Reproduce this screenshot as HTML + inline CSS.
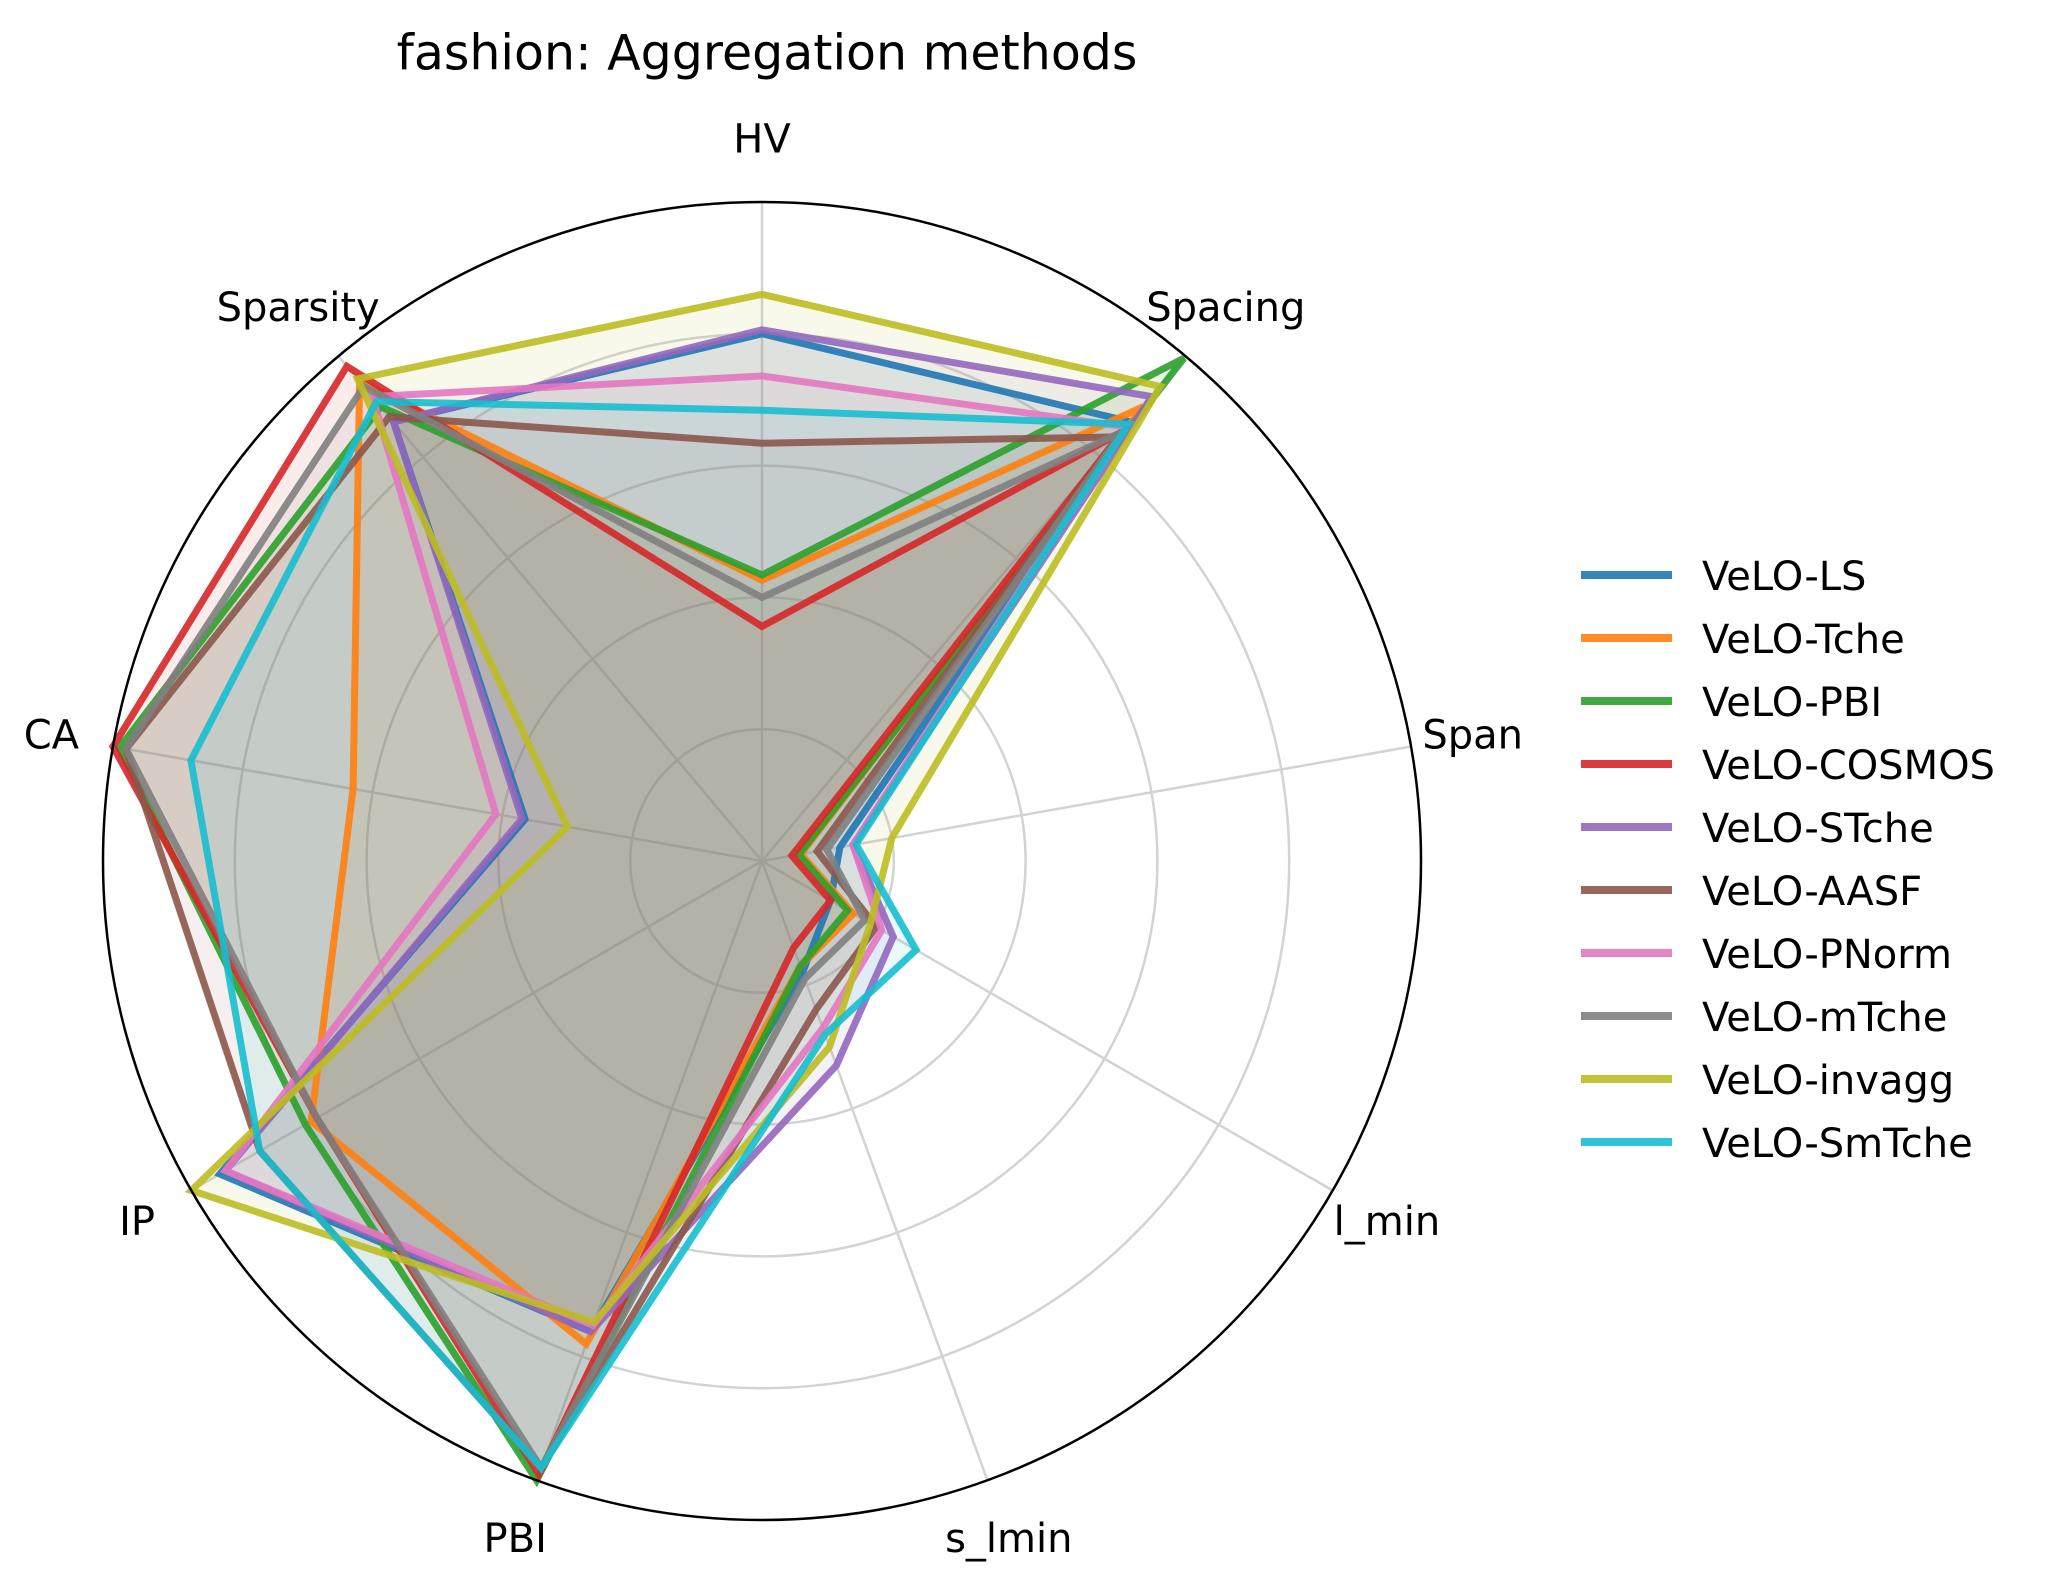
<!DOCTYPE html>
<html><head><meta charset="utf-8"><style>body{margin:0;background:#fff}svg{display:block}text{font-family:"DejaVu Sans","Liberation Sans",sans-serif}</style></head>
<body>
<svg id="chart" width="2053" height="1582" viewBox="0 0 2053 1582" xmlns="http://www.w3.org/2000/svg">
<text x="767" y="53" font-size="49" text-anchor="middle" dominant-baseline="central">fashion: Aggregation methods</text>
<g id="grid"></g>
<g id="series"></g>
<g id="labels"></g>
<g id="legend"></g>
</svg>
<script>
const axes = ["HV","Spacing","Span","l_min","s_lmin","PBI","IP","CA","Sparsity"];
const seriesNames = ["VeLO-LS","VeLO-Tche","VeLO-PBI","VeLO-COSMOS","VeLO-STche","VeLO-AASF","VeLO-PNorm","VeLO-mTche","VeLO-invagg","VeLO-SmTche"];
const colors = ["#1f77b4","#ff7f0e","#2ca02c","#d62728","#9467bd","#8c564b","#e377c2","#7f7f7f","#bcbd22","#17becf"];
const vLS     = [0.80,0.87,0.12,0.12,0.18,0.76,0.95,0.365,0.87];
const vTche   = [0.426,0.90,0.06,0.16,0.17,0.78,0.79,0.63,0.95];
const vPBI    = [0.434,0.996,0.057,0.15,0.17,1.00,0.80,0.99,0.90];
const vCOSMOS = [0.356,0.85,0.046,0.12,0.14,0.99,0.78,1.00,0.98];
const vSTche  = [0.806,0.92,0.14,0.23,0.33,0.76,0.94,0.37,0.87];
const vAASF   = [0.634,0.84,0.085,0.20,0.24,0.98,0.88,0.98,0.88];
const vPNorm  = [0.736,0.86,0.14,0.21,0.27,0.75,0.94,0.41,0.92];
const vmTche  = [0.40,0.85,0.10,0.18,0.19,0.98,0.78,0.98,0.94];
const vinvagg = [0.86,0.94,0.20,0.19,0.30,0.745,1.00,0.30,0.955];
const vSmTche = [0.684,0.865,0.145,0.27,0.28,0.98,0.88,0.88,0.91];
const seriesValues = [vLS,vTche,vPBI,vCOSMOS,vSTche,vAASF,vPNorm,vmTche,vinvagg,vSmTche];
const gridTicks = [0.2,0.4,0.6,0.8];

const NS="http://www.w3.org/2000/svg";
const cx=762, cy=861, R=659;
function ang(i){return (90 - i*360/axes.length)*Math.PI/180;}
function px(i,v){return cx + Math.cos(ang(i))*v*R;}
function py(i,v){return cy - Math.sin(ang(i))*v*R;}
function mk(tag,attrs,parent){const e=document.createElementNS(NS,tag);for(const k in attrs)e.setAttribute(k,attrs[k]);parent.appendChild(e);return e;}

const grid=document.getElementById('grid');
gridTicks.forEach(t=>{
  const c=mk('circle',{cx:cx,cy:cy,r:t*R,fill:'none',stroke:'#d3d3d3','stroke-width':2.5},grid);
  
  
});
axes.forEach((a,i)=>{
  const l=mk('line',{x1:cx,y1:cy,x2:px(i,1),y2:py(i,1),stroke:'#d3d3d3','stroke-width':2.5},grid);
  
  
});

const sg=document.getElementById('series');
seriesValues.forEach((vals,s)=>{
  const pts=vals.map((v,i)=>px(i,v).toFixed(1)+','+py(i,v).toFixed(1)).join(' ');
  const f=mk('polygon',{points:pts,fill:colors[s],'fill-opacity':0.09,stroke:'none'},sg);
  
  
});
seriesValues.forEach((vals,s)=>{
  const pts=vals.map((v,i)=>px(i,v).toFixed(1)+','+py(i,v).toFixed(1)).join(' ');
  const p=mk('polygon',{points:pts,fill:'none',stroke:colors[s],'stroke-width':7,'stroke-opacity':0.9,'stroke-linejoin':'miter'},sg);
  
  
});
const outer=mk('circle',{cx:cx,cy:cy,r:R,fill:'none',stroke:'#000','stroke-width':2.5},sg);



const lg=document.getElementById('labels');
axes.forEach((a,i)=>{
  const t=mk('text',{x:px(i,1.095),y:py(i,1.095),'font-size':40,'text-anchor':'middle','dominant-baseline':'central'},lg);
  t.textContent=a;
  
  
});

const leg=document.getElementById('legend');
seriesNames.forEach((n,s)=>{
  const y=575+s*63;
  const l=mk('line',{x1:1581,y1:y,x2:1672,y2:y,stroke:colors[s],'stroke-width':8,'stroke-opacity':0.9},leg);
  
  
  const t=mk('text',{x:1702,y:y+2,'font-size':40,'dominant-baseline':'central'},leg);
  t.textContent=n;
  
  
});
</script>
</body></html>
